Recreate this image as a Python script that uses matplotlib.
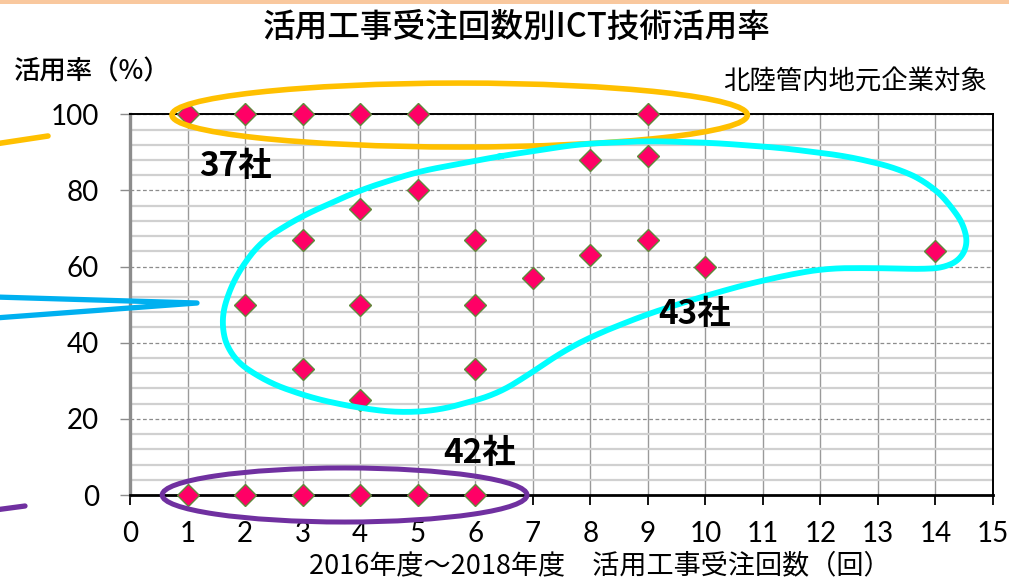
import numpy as np
import matplotlib
matplotlib.use("Agg")
import matplotlib.pyplot as plt
from matplotlib.patches import Ellipse, Rectangle
from matplotlib.lines import Line2D
from matplotlib.ticker import MultipleLocator

plt.rcParams['font.family'] = ['Noto Sans CJK JP', 'DejaVu Sans']

# --- data: number of ICT-applied orders (x) vs. utilisation rate % (y) ---
orders = [1, 2, 3, 4, 5, 9,
          2, 3, 3, 4, 4, 4, 5, 6, 6, 6, 7, 8, 8, 9, 9, 10, 14,
          1, 2, 3, 4, 5, 6]
rate = [100, 100, 100, 100, 100, 100,
        50, 67, 33, 75, 50, 25, 80, 67, 50, 33, 57, 88, 63, 89, 67, 60, 64,
        0, 0, 0, 0, 0, 0]

group_labels = ['37社', '43社', '42社']
x_ticks = list(range(0, 16))
y_ticks = [0, 20, 40, 60, 80, 100]

# freehand outline around the middle group (data coords)
outline_mid = [(6.43, 89.0), (7.82, 92.2), (8.99, 93.0), (10.13, 92.5), (11.30, 91.2),
               (12.46, 89.0), (13.33, 85.9), (13.91, 81.7), (14.31, 75.4), (14.58, 68.6),
               (14.55, 63.3), (14.31, 60.0), (13.91, 59.3), (13.04, 59.6), (12.17, 59.6),
               (11.59, 58.3), (10.73, 55.4), (9.86, 51.7), (8.99, 47.5), (8.12, 42.3),
               (7.53, 37.8), (6.95, 31.8), (6.38, 26.5), (5.39, 22.3),
               (4.69, 21.6), (4.00, 22.8), (3.20, 25.3), (2.40, 29.5),
               (1.75, 36.0), (1.56, 45.5), (1.79, 56.5), (2.26, 66.5), (2.95, 73.0),
               (4.00, 80.1), (4.99, 84.9)]


def smooth_loop(pts, sx=57.5, sy=3.8, step=2.0, win=21):
    """Resample a closed polyline evenly (in pixel units) and smooth it."""
    p = np.asarray(pts, float) * [sx, sy]
    p = np.vstack([p, p[:1]])
    seg = np.hypot(*np.diff(p, axis=0).T)
    s = np.concatenate([[0], np.cumsum(seg)])
    t = np.arange(0, s[-1], step)
    q = np.column_stack([np.interp(t, s, p[:, 0]), np.interp(t, s, p[:, 1])])
    k = np.ones(win) / win
    pad = np.vstack([q[-win:], q, q[:win]])
    sm = np.column_stack([np.convolve(pad[:, i], k, mode='same') for i in range(2)])
    sm = sm[win:-win]
    sm = np.vstack([sm, sm[:1]])
    return sm / [sx, sy]


W, H = 1009, 581
fig = plt.figure(figsize=(W / 100, H / 100), dpi=100)
ax = fig.add_axes([130 / W, 1 - 495 / H, (993 - 130) / W, (495 - 114.3) / H])

ax.set_xlim(0, 15)
ax.set_ylim(0, 100)
ax.set_xticks(x_ticks)
ax.set_yticks(y_ticks)
ax.yaxis.set_minor_locator(MultipleLocator(4))

ax.grid(axis='x', which='major', color='#9a9a9a', lw=1.0, ls='-')
ax.grid(axis='y', which='minor', color='#d0d0d0', lw=1.6, ls='-')
ax.grid(axis='y', which='major', color='#8c8c8c', lw=0.9, ls=(0, (3, 2)))
ax.set_axisbelow(True)

for side in ['top', 'right']:
    ax.spines[side].set_color('black')
    ax.spines[side].set_linewidth(1.4)
ax.spines['bottom'].set_color('black')
ax.spines['bottom'].set_linewidth(2.0)
ax.spines['left'].set_color('#8c8c8c')
ax.spines['left'].set_linewidth(2.4)

ax.tick_params(axis='x', which='major', direction='out', length=7, width=1.3,
               color='black', pad=12, labelsize=20)
ax.tick_params(axis='y', which='major', direction='out', length=7.5, width=1.0,
               color='#8c8c8c', pad=15, labelsize=20)
ax.tick_params(axis='y', which='minor', length=0)
for lbl in ax.get_xticklabels() + ax.get_yticklabels():
    lbl.set_fontfamily('Lato')

ax.plot(orders, rate, ls='none', marker='D', ms=11.5, mfc='#ff0066', mec='#5f8a3a',
        mew=1.0, clip_on=False, zorder=5)

# group outlines
ax.add_patch(Ellipse((5.73, 99.8), 10.0, 16.8, fill=False, ec='#ffc000', lw=4.0,
                     clip_on=False, zorder=6))
ax.add_patch(Ellipse((3.73, 0.0), 6.34, 14.2, fill=False, ec='#7030a0', lw=3.6,
                     clip_on=False, zorder=6))
curve = smooth_loop(outline_mid)
ax.plot(curve[:, 0], curve[:, 1], color='#00ffff', lw=4.2, clip_on=False, zorder=6,
        solid_joinstyle='round')

for (gx, gy), lab in zip([(1.84, 86.4), (9.82, 47.3), (6.08, 11.0)], group_labels):
    ax.text(gx, gy, lab, fontsize=24, fontweight='bold', ha='center', va='center',
            zorder=7)


# pointer strokes on the left edge (figure pixels)
def fig_line(xs, ys, color, lw):
    fig.add_artist(Line2D([x / W for x in xs], [1 - y / H for y in ys],
                          color=color, lw=lw, solid_capstyle='round'))


fig_line([-5, 48], [144, 136], '#ffc000', 4.0)
fig_line([-5, 197, -5], [297, 303, 318], '#00b0f0', 3.8)
fig_line([-5, 25], [510, 506], '#7030a0', 3.8)

# top banner strip
fig.add_artist(Rectangle((0, 1 - 4 / H), 1, 4 / H, transform=fig.transFigure,
                         color='#f9c89e', lw=0))

fig.text(517 / W, 1 - 27 / H, '活用工事受注回数別ICT技術活用率', fontsize=23.5,
         fontweight='medium', ha='center', va='center')
fig.text(14 / W, 1 - 72 / H, '活用率（%）', fontsize=19, fontweight='medium',
         ha='left', va='center')
fig.text(855 / W, 1 - 82 / H, '北陸管内地元企業対象', fontsize=19,
         ha='center', va='center')
fig.text(600 / W, 1 - 566 / H, '2016年度～2018年度　活用工事受注回数（回）',
         fontsize=19.5, ha='center', va='center')

fig.savefig('out.png', dpi=100)
